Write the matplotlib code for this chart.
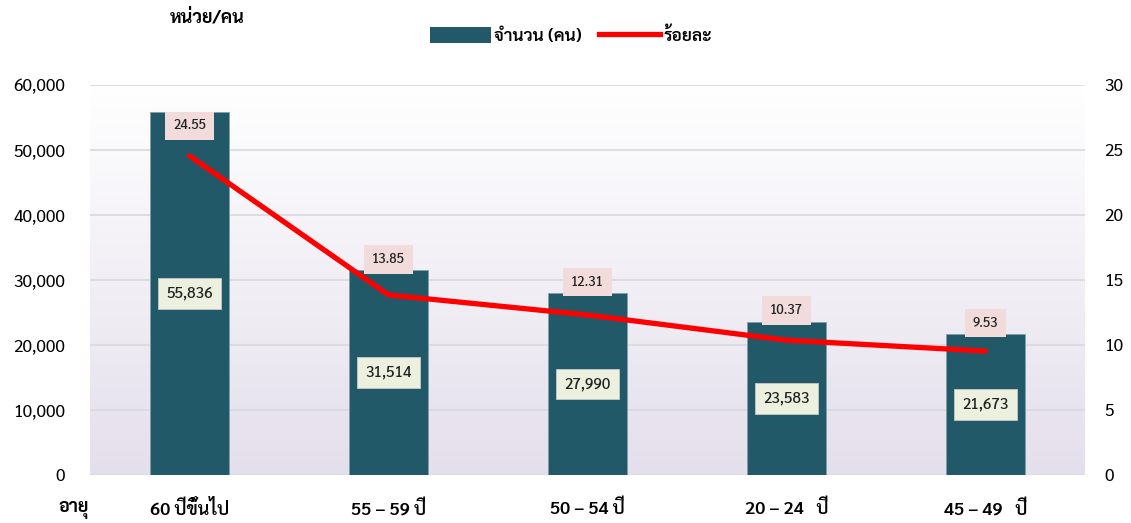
import numpy as np
import matplotlib
matplotlib.use("Agg")
import matplotlib.pyplot as plt
from matplotlib.patches import Patch
from matplotlib.lines import Line2D

categories = ["60 ปีขึ้นไป", "55 – 59 ปี", "50 – 54 ปี", "20 – 24   ปี", "45 – 49   ปี"]
counts = [55836, 31514, 27990, 23583, 21673]
percents = [24.55, 13.85, 12.31, 10.37, 9.53]
left_ticks = [0, 10000, 20000, 30000, 40000, 50000, 60000]
right_ticks = [0, 5, 10, 15, 20, 25, 30]

plt.rcParams["font.family"] = ["Sarabun", "DejaVu Sans"]

fig = plt.figure(figsize=(11.31, 5.23), dpi=100)
ax = fig.add_axes([0.0796, 0.0918, 0.8797, 0.7457])
ax2 = ax.twinx()

x = np.arange(len(categories))
ax.set_xlim(-0.5, len(categories) - 0.5)
ax.set_ylim(0, 60000)
ax2.set_ylim(0, 30)

# gradient background
grad = np.linspace(0, 1, 256).reshape(-1, 1)
top = np.array([1.0, 1.0, 1.0])
bot = np.array([0xE4, 0xDF, 0xEC]) / 255
img = top * (1 - grad[..., None]) + bot * grad[..., None]
ax.imshow(img, extent=[-0.5, len(categories) - 0.5, 0, 60000], aspect="auto", origin="upper", zorder=0)

for t in left_ticks:
    ax.axhline(t, color="#d9d9d9", lw=1.2, zorder=1)

bar_color = "#215968"
ax.bar(x, counts, width=0.4, color=bar_color, edgecolor="#7f9fa8", linewidth=0.6, zorder=2)
ax2.plot(x, percents, color="#ff0000", lw=3.8, solid_capstyle="round", zorder=3)

for xi, c in zip(x, counts):
    ax.text(xi, c / 2, f"{c:,}", ha="center", va="center", fontsize=11, color="#222222", zorder=5,
            fontweight="medium",
            bbox=dict(boxstyle="square,pad=0.55", fc="#EBF1DE", ec="#c8c8c8", lw=0.6))
for xi, c, p in zip(x, counts, percents):
    yy = min(c + 1700, 53700)
    ax.text(xi, yy, f"{p:.2f}", ha="center", va="center", fontsize=9.5, color="#222222", zorder=5,
            fontweight="medium",
            bbox=dict(boxstyle="square,pad=0.6", fc="#F2DCDB", ec="none"))

ax.set_yticks(left_ticks)
ax.set_yticklabels([f"{t:,}" for t in left_ticks], fontsize=12.5)
ax2.set_yticks(right_ticks)
ax2.set_yticklabels([str(t) for t in right_ticks], fontsize=12.5)
ax.set_xticks(x)
ax.set_xticklabels(categories, fontsize=13, fontweight="semibold")
for a in (ax, ax2):
    for s in a.spines.values():
        s.set_visible(False)
ax.tick_params(axis="y", length=0, pad=18)
ax.tick_params(axis="x", length=0, pad=18)
ax2.tick_params(axis="y", length=0, pad=14)

fig.text(58 / 1131, 1 - 510 / 523, "อายุ", fontsize=13, fontweight="bold", va="center")
fig.text(170 / 1131, 1 - 18 / 523, "หน่วย/คน", fontsize=13, fontweight="bold", va="center")

handles = [Patch(facecolor=bar_color), Line2D([0], [0], color="#ff0000", lw=3.8)]
fig.legend(handles, ["จำนวน (คน)", "ร้อยละ"], loc="center", bbox_to_anchor=(571 / 1131, 1 - 36 / 523),
           ncol=2, frameon=False, handlelength=3.5, handleheight=1.0, columnspacing=1.0, handletextpad=0.2,
           prop=dict(family=["Sarabun", "DejaVu Sans"], weight="semibold", size=12.5))
fig.savefig("out.png", dpi=100)
